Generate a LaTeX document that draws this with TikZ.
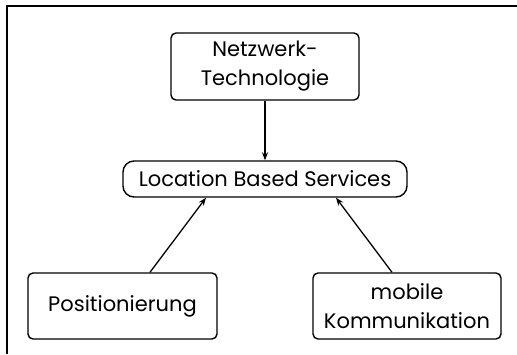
\documentclass[tikz,border=0pt]{standalone}
\usepackage{fontspec}
\setmainfont{Poppins}
\usetikzlibrary{arrows.meta}
\begin{document}
\begin{tikzpicture}[x=1pt,y=-1pt,
  box/.style={draw, line width=1.4pt, rounded corners=5pt, align=center,
    inner sep=0pt, font=\fontsize{21}{29}\selectfont},
  link/.style={line width=1.3pt, -{Stealth[length=8pt,width=6pt]}}]
  \useasboundingbox[fill=white] (0,0) rectangle (517,354);
  % open frame: top and left edges
  \draw[line width=2pt] (6.5,354) -- (6.5,6) -- (517,6);
  \node[box, minimum width=188pt, minimum height=67pt] (net) at (265,66.5)
    {Netzwerk-\\Technologie};
  \node[box, rounded corners=11pt, minimum width=284pt, minimum height=36pt] (lbs) at (265,179)
    {Location Based Services};
  \node[box, minimum width=189pt, minimum height=66pt] (pos) at (122.5,306)
    {Positionierung};
  \node[box, minimum width=188pt, minimum height=66pt] (mob) at (407,306)
    {mobile\\Kommunikation};
  \draw[link] (net.south) -- (lbs.north);
  \draw[link] ([xshift=27.5pt]pos.north) -- ([xshift=-59pt]lbs.south);
  \draw[link] ([xshift=-15pt]mob.north) -- ([xshift=71pt]lbs.south);
\end{tikzpicture}
\end{document}
